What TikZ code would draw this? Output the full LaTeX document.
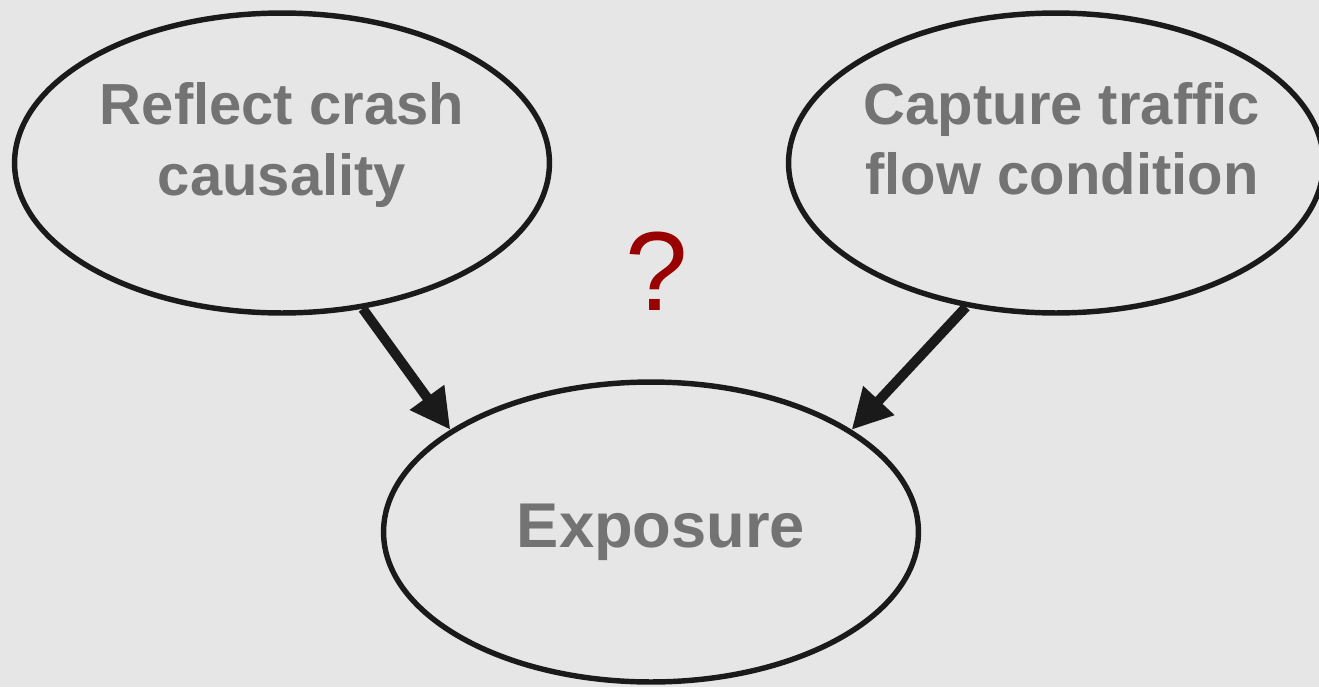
\documentclass[tikz,border=0pt]{standalone}
\usepackage{fontspec}
\setmainfont{Liberation Sans}
\usepackage{tikz}
\usetikzlibrary{arrows.meta, shapes.geometric}

\definecolor{bggray}{RGB}{230,230,230}
\definecolor{txtgray}{RGB}{115,115,115}
\definecolor{edgeblack}{RGB}{26,26,26}
\definecolor{darkred}{RGB}{153,0,0}

\begin{document}
\begin{tikzpicture}[
    x=0.02cm, y=-0.02cm,
    factor/.style={ellipse, draw=edgeblack, line width=3.1pt, minimum width=10.7cm, minimum height=6cm, inner sep=0pt},
    lbl/.style={align=center, text=txtgray, yshift=0.36cm, font=\fontsize{33}{40}\selectfont\bfseries},
    biglbl/.style={lbl, yshift=-0.36cm, font=\fontsize{36}{42}\selectfont\bfseries},
    qmark/.style={text=darkred, font=\fontsize{64}{70}\selectfont, inner sep=0pt},
    link/.style={draw=edgeblack, line width=5.6pt, -{Triangle[length=0.8cm, width=0.8cm]}}
]
    \fill[bggray, use as bounding box] (0,0) rectangle (1319,687);

    \node[factor, label={[lbl]center:{Reflect crash\\causality}}] (reflect) at (282,163) {};
    \node[factor, label={[lbl, xshift=0.12cm, yshift=0.12cm]center:{Capture traffic\\flow condition}}] (capture) at (1056,163) {};
    \node[factor, label={[biglbl, xshift=0.2cm]center:{Exposure}}] (expo) at (651,532) {};
    \node[qmark, anchor=base] (unknown) at (657,310) {?};

    % Connectors
    \draw[link] (reflect.-61) -- (expo.153);
    \draw[link] (capture.-122) -- (expo.27);
\end{tikzpicture}
\end{document}
